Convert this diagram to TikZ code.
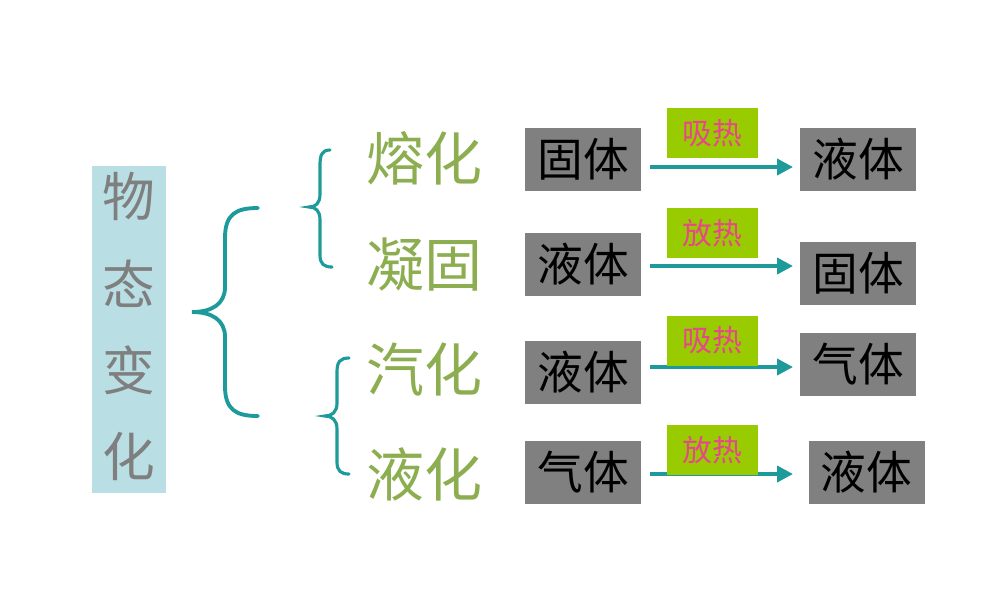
\documentclass[tikz,border=0pt]{standalone}
\usepackage{fontspec}
\newfontfamily\cjk{Noto Sans CJK SC}
\usetikzlibrary{arrows.meta}
\definecolor{teal1}{HTML}{1E9A9A}
\definecolor{boxgray}{HTML}{808080}
\definecolor{lblue}{HTML}{B9DEE4}
\definecolor{lgreen}{HTML}{99CC00}
\definecolor{pinktxt}{HTML}{E8458C}
\definecolor{procol}{HTML}{8CAE50}
\definecolor{titlegray}{HTML}{7F7F7F}
\begin{document}
\begin{tikzpicture}[x=0.02cm,y=-0.02cm,
  statebox/.style={fill=boxgray,draw=none,inner sep=0pt,minimum width=2.32cm,minimum height=1.26cm,font=\cjk\fontsize{26}{26}\selectfont,text=black},
  heatbox/.style={fill=lgreen,draw=none,inner sep=0pt,minimum width=1.82cm,minimum height=1.0cm,font=\cjk\fontsize{17}{17}\selectfont,text=pinktxt},
  proc/.style={inner sep=0pt,font=\cjk\fontsize{33}{33}\selectfont,text=procol},
  titlechar/.style={inner sep=0pt,font=\cjk\fontsize{30}{30}\selectfont,text=titlegray},
  brace/.style={draw=teal1,line width=2.2pt,line cap=round},
  sbrace/.style={draw=teal1,line width=1.8pt,line cap=round},
  arr/.style={draw=teal1,line width=2.2pt,-{Triangle[length=9pt,width=9pt]}}]
\path[use as bounding box] (0,0) rectangle (1000,600);
% title column
\node[fill=lblue,inner sep=0pt,minimum width=1.48cm,minimum height=6.54cm] (tb) at (129,329.5) {};
\node[titlechar] (t1) at (129,196) {物};
\node[titlechar] (t2) at (129,284) {态};
\node[titlechar] (t3) at (129,370) {变};
\node[titlechar] (t4) at (129,456) {化};
% large brace
\draw[brace] (258,208) .. controls (236,208) and (225,214) .. (225,238) -- (225,287)
  .. controls (225,304) and (212,312) .. (192,312)
  .. controls (212,312) and (225,320) .. (225,337) -- (225,386)
  .. controls (225,410) and (236,416) .. (258,416);
% small braces
\draw[sbrace] (330,150) .. controls (322,150) and (320,155) .. (320,165) -- (320,194)
  .. controls (320,203) and (316,207) .. (309,207)
  .. controls (316,207) and (320,211) .. (320,220) -- (320,255)
  .. controls (320,264) and (324,267) .. (332,267);
\draw[sbrace] (349,358) .. controls (340,358) and (337,362) .. (337,372) -- (337,403)
  .. controls (337,412) and (332,416) .. (325,416)
  .. controls (332,416) and (337,420) .. (337,429) -- (337,462)
  .. controls (337,471) and (341,474) .. (349,474);
% process names
\node[proc] (p1) at (424,158) {熔化};
\node[proc] (p2) at (424,265) {凝固};
\node[proc] (p3) at (424,370) {汽化};
\node[proc] (p4) at (424,474) {液化};
% left state boxes
\node[statebox] (l1) at (583,159.5) {固体};
\node[statebox] (l2) at (583,264.5) {液体};
\node[statebox] (l3) at (583,372.5) {液体};
\node[statebox] (l4) at (583,472.5) {气体};
% right state boxes
\node[statebox] (r1) at (858,159.5) {液体};
\node[statebox] (r2) at (858,273) {固体};
\node[statebox] (r3) at (858,364.5) {气体};
\node[statebox] (r4) at (866.5,472.5) {液体};
% arrows
\coordinate (a1s) at (650,167); \coordinate (a1e) at (793,167);
\coordinate (a2s) at (650,266); \coordinate (a2e) at (793,266);
\coordinate (a3s) at (650,367); \coordinate (a3e) at (793,367);
\coordinate (a4s) at (650,474); \coordinate (a4e) at (793,474);
\draw[arr] (a1s) -- (a1e);
\draw[arr] (a2s) -- (a2e);
\draw[arr] (a3s) -- (a3e);
\draw[arr] (a4s) -- (a4e);
% heat labels
\node[heatbox] (h1) at (712.5,133) {吸热};
\node[heatbox] (h2) at (712.5,233) {放热};
\node[heatbox] (h3) at (712.5,340.5) {吸热};
\node[heatbox] (h4) at (712.5,450) {放热};
\end{tikzpicture}
\end{document}
